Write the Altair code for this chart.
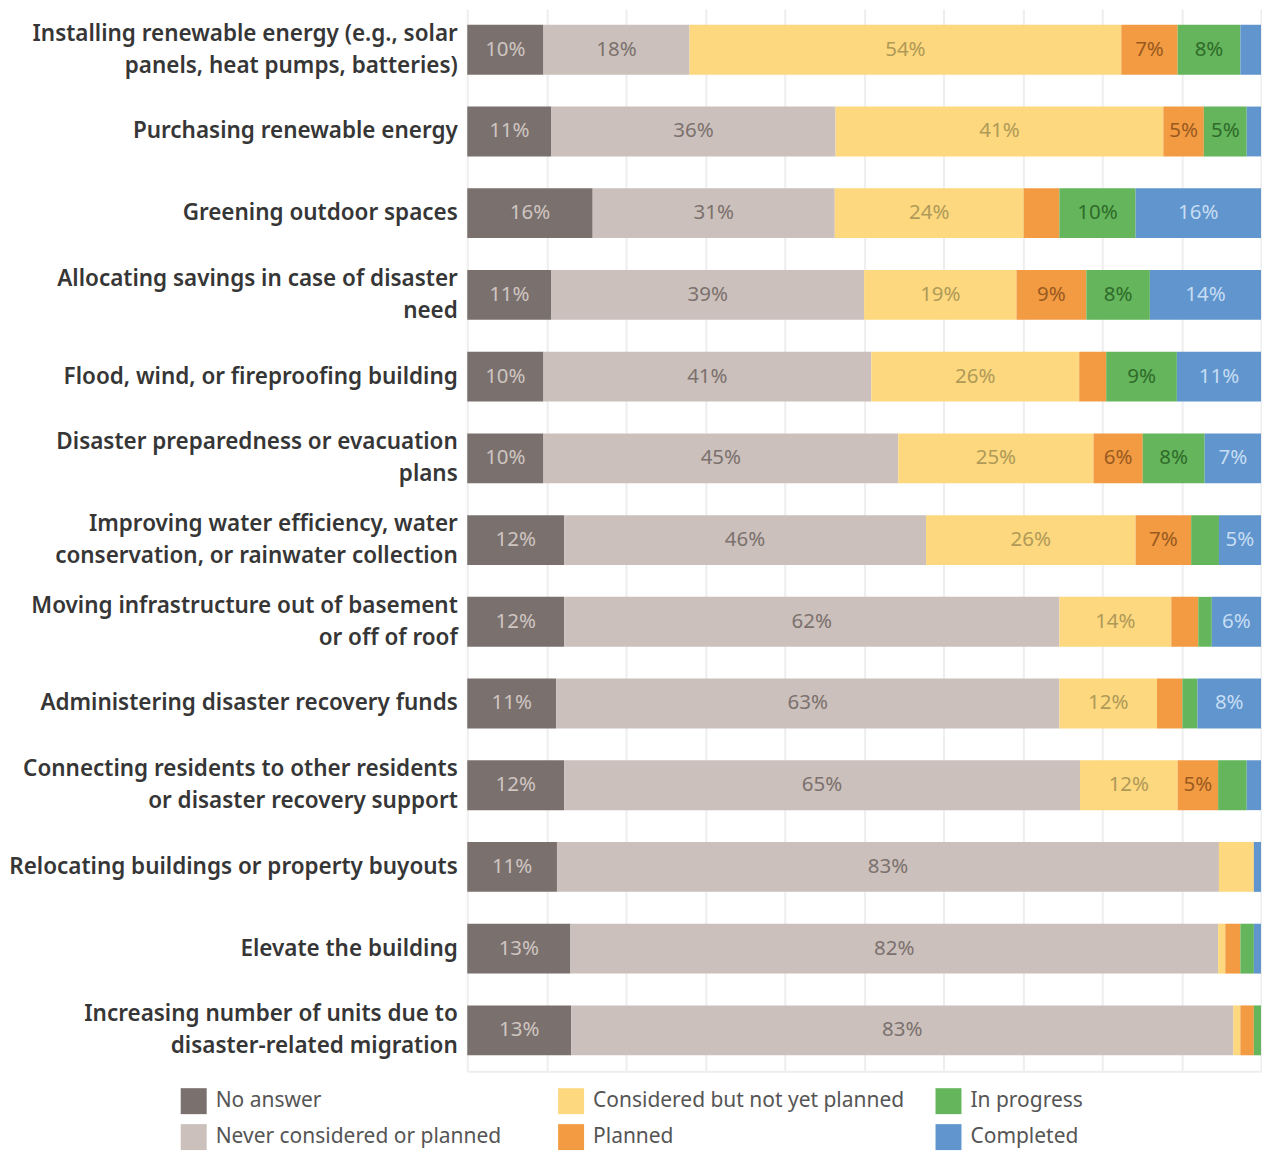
import altair as alt
import pandas as pd

categories = [
    "Installing renewable energy (e.g., solar|panels, heat pumps, batteries)",
    "Purchasing renewable energy",
    "Greening outdoor spaces",
    "Allocating savings in case of disaster|need",
    "Flood, wind, or fireproofing building",
    "Disaster preparedness or evacuation|plans",
    "Improving water efficiency, water|conservation, or rainwater collection",
    "Moving infrastructure out of basement|or off of roof",
    "Administering disaster recovery funds",
    "Connecting residents to other residents|or disaster recovery support",
    "Relocating buildings or property buyouts",
    "Elevate the building",
    "Increasing number of units due to|disaster-related migration",
]
series = ["No answer", "Never considered or planned", "Considered but not yet planned",
          "Planned", "In progress", "Completed"]
no_answer = [9.6, 10.6, 15.8, 10.6, 9.6, 9.6, 12.2, 12.2, 11.2, 12.2, 11.3, 13.0, 13.1]
never = [18.4, 35.8, 30.5, 39.4, 41.3, 44.7, 45.6, 62.4, 63.4, 65.0, 83.4, 81.6, 83.4]
considered = [54.4, 41.3, 23.8, 19.2, 26.2, 24.6, 26.4, 14.1, 12.3, 12.3, 4.4, 0.9, 0.9]
planned = [7.1, 5.1, 4.5, 8.8, 3.4, 6.2, 7.0, 3.4, 3.2, 5.1, 0.0, 1.9, 1.7]
in_progress = [7.9, 5.4, 9.6, 8.0, 8.9, 7.8, 3.5, 1.7, 1.9, 3.6, 0.0, 1.7, 0.9]
completed = [2.6, 1.8, 15.8, 14.0, 10.6, 7.1, 5.3, 6.2, 8.0, 1.8, 0.9, 0.9, 0.0]

bar_colors = ["#7a706d", "#cbc0bb", "#fdd87e", "#f29b43", "#64b55b", "#6095cd"]
label_colors = ["#cfc5c1", "#7b716e", "#b09a58", "#9a5a1e", "#2f6b2a", "#c6ddf4"]

values_by_series = [no_answer, never, considered, planned, in_progress, completed]
rows = []
for si, s in enumerate(series):
    for ci, c in enumerate(categories):
        v = values_by_series[si][ci]
        rows.append({
            "category": c,
            "series": s,
            "order": si,
            "value": v,
            "label": f"{int(v + 0.5)}%",
            "show": v >= 4.8,
            "tcolor": label_colors[si],
        })
df = pd.DataFrame(rows)

legend_order = [series[0], series[2], series[4], series[1], series[3], series[5]]
legend_colors = [bar_colors[series.index(s)] for s in legend_order]

FONT = "Noto Sans"

base = alt.Chart(df).transform_stack(
    stack="value", as_=["x0", "x1"], groupby=["category"],
    sort=[alt.SortField("order", order="ascending")]
).transform_calculate(mid="(datum.x0 + datum.x1) / 2")

y_enc = alt.Y(
    "category:N", sort=categories,
    scale=alt.Scale(paddingInner=0.39, paddingOuter=0.195),
    axis=alt.Axis(title=None, labelExpr="split(datum.label, '|')",
                  labelFontSize=22.5, labelFont=FONT, labelFontWeight=600,
                  labelColor="#363636", labelPadding=10, ticks=False,
                  domain=False, labelLimit=0, labelLineHeight=32,
                  labelOffset={"condition": {"test": "indexof(datum.value, '|') >= 0",
                                             "value": -16}, "value": 0}),
)

x_scale = alt.Scale(domain=[0, 100], nice=False, zero=True)

bars = base.mark_bar(strokeWidth=0).encode(
    x=alt.X("x0:Q", scale=x_scale,
            axis=alt.Axis(title=None, labels=False, ticks=False, domain=True,
                          domainColor="#eeeeee", domainWidth=2,
                          grid=True, gridColor="#eeeeee", gridWidth=2,
                          values=list(range(0, 101, 10)))),
    x2="x1:Q",
    y=y_enc,
    color=alt.Color("series:N", scale=alt.Scale(domain=legend_order, range=legend_colors),
                    legend=alt.Legend(title=None, orient="none", legendX=-287, legendY=1081,
                                      columns=3, direction="horizontal", gridAlign="all",
                                      columnPadding=31, rowPadding=10,
                                      symbolType="square", symbolSize=676, symbolStrokeWidth=0,
                                      labelFontSize=21, labelFont=FONT, labelColor="#555555",
                                      labelOffset=9, padding=0, labelLimit=0)),
)

texts = base.transform_filter("datum.show").mark_text(
    fontSize=20.5, font=FONT, align="center", baseline="middle"
).encode(
    x=alt.X("mid:Q", scale=x_scale),
    y=alt.Y("category:N", sort=categories),
    text="label:N",
    color=alt.Color("tcolor:N", scale=None),
)

chart = alt.layer(bars, texts).properties(
    width=795, height=1064,
    padding={"left": 0, "top": 0, "right": 0, "bottom": 0},
).configure_view(stroke=None)

chart.save("out.html", embed_options={"renderer": "svg", "actions": False})
